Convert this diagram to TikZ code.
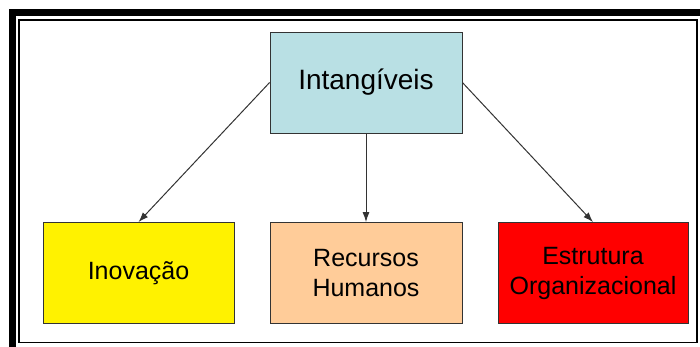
\documentclass[tikz,border=0pt]{standalone}
\usepackage{fontspec}
\setmainfont{Liberation Sans}
\usetikzlibrary{positioning,arrows.meta}

\definecolor{intangcolor}{RGB}{185,224,228}
\definecolor{rhcolor}{RGB}{255,204,153}

\begin{document}
\begin{tikzpicture}[x=1pt,y=-1pt,
        box/.style={draw=black!80, line width=.8pt, minimum width=192pt, minimum height=101pt,
                    align=center, inner sep=0pt, font=\fontsize{25}{30}\selectfont},
        link/.style={draw=black!80, line width=1pt, -{Latex[length=10pt,width=7pt]}}]
        \useasboundingbox (0,0) rectangle (700,347);
        \clip (0,0) rectangle (700,347);

        % moldura
        \draw[line width=7pt] (12.5,12.5) rectangle (710,400);
        \draw[line width=1.5pt] (19,20) rectangle (697,342.5);

        % caixas
        \node[box, fill=intangcolor, font=\fontsize{28}{34}\selectfont] (intang) at (366,82.5) {Intangíveis};
        \node[box, fill=yellow, minimum width=191pt] (inov)  at (138.5,273) {Inovação};
        \node[box, fill=rhcolor] (rh)    at (366,273) {Recursos\\Humanos};
        \node[box, fill=red, minimum width=190pt] (estr)  at (593,273) {Estrutura\\Organizacional};

        % ligações
        \draw[link] (intang.west)  -- (inov.north);
        \draw[link] (intang.south) -- (rh.north);
        \draw[link] (intang.east)  -- (estr.north);
\end{tikzpicture}
\end{document}
